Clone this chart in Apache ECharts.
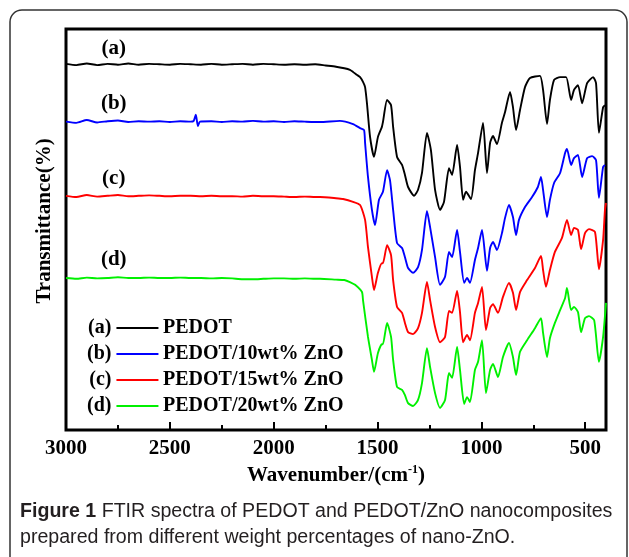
<!DOCTYPE html>
<html>
<head>
<meta charset="utf-8">
<title>FTIR spectra of PEDOT and PEDOT/ZnO</title>
<script src="https://cdn.jsdelivr.net/npm/echarts@6.0.0/dist/echarts.min.js"></script>
<style>
  html, body { margin: 0; padding: 0; background: #fff; }
  #chart { width: 629px; height: 557px; }
</style>
</head>
<body>
<div id="chart"></div>
<script>
// values: wavenumber (cm-1) and transmittance (arbitrary, stacked)
const waveA = [3000, 2950, 2900, 2850, 2800, 2750, 2700, 2650, 2600, 2550, 2500, 2450, 2400, 2350, 2300, 2250, 2200, 2150, 2100, 2050, 2000, 1950, 1900, 1850, 1800, 1750, 1700, 1660, 1633, 1618, 1600, 1584, 1570, 1560, 1551, 1536, 1517, 1498, 1479, 1474, 1454, 1435, 1425, 1406, 1382, 1368, 1353, 1324, 1305, 1286, 1262, 1243, 1223, 1199, 1180, 1156, 1141, 1117, 1103, 1088, 1074, 1050, 1031, 1016, 992, 973, 958, 944, 925, 901, 886, 862, 848, 833, 814, 790, 766, 718, 703, 684, 670, 650, 621, 592, 568, 554, 535, 515, 491, 462, 448, 434, 414, 405];
const transA = [91.3, 91.0, 91.4, 91.0, 91.3, 91.1, 91.4, 91.1, 91.3, 91.2, 91.1, 91.3, 91.2, 91.1, 91.3, 91.1, 91.2, 91.3, 91.1, 91.3, 91.2, 91.1, 91.2, 91.1, 91.2, 90.9, 90.6, 90.2, 89.8, 89.3, 88.6, 88.0, 86.8, 85.5, 81.5, 73.1, 68.1, 73.1, 75.6, 76.8, 82.3, 81.0, 75.6, 68.1, 66.1, 63.6, 60.6, 58.4, 59.9, 64.1, 74.1, 69.8, 59.9, 54.9, 56.9, 65.3, 63.6, 71.1, 65.6, 57.4, 59.4, 57.6, 64.8, 69.1, 76.6, 64.1, 71.6, 73.3, 71.3, 76.6, 79.3, 84.3, 80.5, 74.8, 79.8, 85.5, 87.8, 88.3, 84.8, 76.3, 82.3, 87.3, 88.0, 88.0, 82.3, 84.8, 86.0, 81.5, 86.5, 88.0, 86.5, 74.1, 80.5, 81.0];

const waveB = [3000, 2950, 2900, 2850, 2800, 2750, 2700, 2650, 2600, 2550, 2500, 2450, 2400, 2385, 2375, 2365, 2355, 2300, 2250, 2200, 2150, 2100, 2050, 2000, 1950, 1900, 1850, 1777, 1681, 1618, 1584, 1565, 1560, 1546, 1527, 1512, 1493, 1474, 1454, 1440, 1425, 1406, 1382, 1368, 1353, 1329, 1305, 1286, 1262, 1247, 1223, 1199, 1175, 1156, 1141, 1117, 1103, 1083, 1069, 1055, 1031, 1016, 997, 973, 958, 944, 925, 901, 886, 867, 848, 833, 819, 790, 756, 728, 713, 703, 684, 670, 650, 621, 597, 588, 568, 554, 535, 515, 491, 467, 448, 434, 414, 405];
const transB = [76.9, 76.6, 77.3, 76.7, 77.0, 77.2, 76.8, 77.0, 76.9, 77.0, 76.8, 77.0, 76.9, 77.1, 78.6, 75.8, 76.9, 77.0, 76.8, 77.0, 76.9, 77.1, 76.9, 77.0, 76.8, 77.0, 76.9, 76.8, 77.1, 76.3, 75.3, 74.8, 71.6, 63.1, 54.9, 51.1, 57.4, 59.4, 64.8, 62.3, 54.9, 46.6, 45.4, 43.1, 40.4, 39.2, 40.6, 44.9, 54.6, 50.6, 43.1, 36.2, 38.2, 44.4, 43.1, 49.9, 44.4, 36.7, 37.9, 36.7, 42.4, 45.4, 49.9, 39.7, 45.4, 46.9, 44.9, 49.1, 52.9, 56.1, 53.1, 48.6, 52.4, 55.6, 58.1, 60.6, 63.1, 59.9, 53.1, 57.4, 61.6, 64.1, 69.1, 70.1, 66.1, 67.8, 68.6, 63.1, 67.8, 68.3, 67.3, 57.9, 65.6, 66.1];

const waveC = [3000, 2950, 2900, 2850, 2800, 2750, 2700, 2650, 2600, 2550, 2500, 2450, 2400, 2350, 2300, 2250, 2200, 2150, 2100, 2050, 2000, 1950, 1900, 1850, 1800, 1777, 1700, 1666, 1618, 1584, 1560, 1546, 1527, 1517, 1498, 1479, 1474, 1454, 1435, 1425, 1406, 1382, 1368, 1353, 1329, 1305, 1286, 1262, 1247, 1223, 1199, 1175, 1156, 1141, 1117, 1103, 1088, 1069, 1055, 1031, 1016, 997, 978, 958, 944, 920, 896, 867, 848, 833, 814, 780, 742, 713, 703, 689, 670, 646, 612, 588, 568, 554, 535, 520, 501, 482, 453, 434, 414, 405, 400];
const transC = [58.4, 58.1, 58.6, 58.2, 58.4, 58.6, 58.3, 58.4, 58.5, 58.4, 58.3, 58.4, 58.4, 58.3, 58.4, 58.3, 58.3, 58.2, 58.4, 58.3, 58.3, 58.2, 58.1, 58.2, 58.1, 58.1, 57.8, 57.6, 56.9, 56.1, 52.4, 45.6, 38.2, 34.9, 39.2, 41.6, 41.6, 46.1, 43.6, 37.4, 30.7, 29.2, 26.7, 24.4, 23.9, 25.4, 29.2, 36.9, 32.4, 25.7, 21.9, 23.2, 29.7, 29.2, 34.7, 29.4, 21.9, 23.7, 22.4, 29.2, 31.7, 35.7, 24.9, 30.4, 31.4, 29.2, 33.2, 36.7, 34.2, 29.9, 34.4, 37.4, 40.4, 43.4, 39.9, 35.7, 39.9, 44.4, 47.9, 52.4, 48.6, 50.4, 49.9, 45.1, 49.1, 50.1, 49.4, 40.1, 47.4, 54.9, 56.6];

const waveD = [3000, 2950, 2900, 2850, 2800, 2750, 2700, 2650, 2600, 2550, 2500, 2450, 2400, 2350, 2300, 2250, 2200, 2150, 2100, 2050, 2000, 1950, 1900, 1850, 1800, 1777, 1700, 1660, 1633, 1608, 1575, 1570, 1546, 1527, 1517, 1498, 1479, 1474, 1454, 1435, 1425, 1406, 1382, 1368, 1353, 1329, 1305, 1286, 1262, 1247, 1223, 1199, 1175, 1156, 1141, 1117, 1103, 1083, 1069, 1055, 1031, 1016, 997, 978, 958, 944, 920, 896, 867, 848, 833, 814, 780, 742, 713, 703, 684, 670, 646, 621, 597, 588, 568, 554, 535, 520, 501, 482, 457, 434, 414, 400];
const transD = [37.9, 37.7, 38.0, 37.8, 37.9, 38.1, 37.9, 37.9, 38.0, 37.9, 37.9, 38.0, 37.9, 37.9, 37.8, 37.9, 37.8, 37.6, 37.6, 37.7, 37.8, 37.8, 37.7, 37.8, 37.7, 37.7, 37.5, 37.4, 36.9, 36.2, 34.4, 32.4, 23.2, 17.5, 14.5, 19.2, 21.4, 21.4, 26.7, 23.2, 17.5, 10.7, 10.0, 8.7, 6.7, 6.0, 7.5, 11.7, 20.4, 15.7, 9.2, 5.5, 7.5, 14.2, 13.0, 20.7, 15.0, 6.5, 8.2, 7.0, 15.0, 17.0, 22.4, 9.2, 15.0, 16.5, 13.2, 18.2, 21.7, 18.2, 13.7, 19.5, 22.4, 25.4, 27.9, 24.2, 18.2, 22.9, 26.7, 29.9, 32.9, 35.4, 29.9, 30.7, 29.4, 24.4, 27.9, 28.4, 27.4, 17.0, 23.2, 31.7];

const seriesNames = ['PEDOT', 'PEDOT/10wt% ZnO', 'PEDOT/15wt% ZnO', 'PEDOT/20wt% ZnO'];
const seriesTags = ['(a)', '(b)', '(c)', '(d)'];
// where the (a)..(d) tags sit, in data units
const tagWave = [2770, 2770, 2770, 2770];
const tagTrans = [95.0, 81.5, 62.6, 42.4];

const majorTicks = [500, 1000, 1500, 2000, 2500, 3000];
const minorTicks = [750, 1250, 1750, 2250, 2750];

const colors = ['#000000', '#0000ff', '#ff0000', '#00f000'];
const serif = "'Times New Roman', 'Liberation Serif', serif";
const sans = "'Liberation Sans', Arial, sans-serif";

const waves = [waveA, waveB, waveC, waveD];
const trans = [transA, transB, transC, transD];

const chart = echarts.init(document.getElementById('chart'));

const series = seriesNames.map((name, i) => ({
  name: name,
  type: 'line',
  xAxisIndex: 0,
  showSymbol: false,
  smooth: 0.2,
  color: colors[i],
  lineStyle: { width: 1.9, color: colors[i] },
  data: waves[i].map((w, k) => [w, trans[i][k]]),
  markPoint: {
    symbol: 'circle',
    symbolSize: 1,
    itemStyle: { color: 'rgba(0,0,0,0)' },
    label: {
      show: true,
      position: 'inside',
      formatter: seriesTags[i],
      color: '#000',
      fontFamily: serif,
      fontWeight: 'bold',
      fontSize: 21
    },
    data: [{ coord: [tagWave[i], tagTrans[i]] }]
  }
}));

const legendText = {
  color: '#000',
  fontFamily: serif,
  fontWeight: 'bold',
  fontSize: 20,
  lineHeight: 20
};

chart.setOption({
  animation: false,
  grid: {
    left: 66, right: 23, top: 29, bottom: 127,
    show: true,
    borderColor: '#000',
    borderWidth: 3
  },
  legend: [
    {
      // tags with the line sample after them
      data: seriesNames,
      orient: 'vertical',
      left: 87, top: 318,
      padding: 0,
      align: 'right',
      icon: 'rect',
      itemWidth: 42, itemHeight: 2, itemGap: 6,
      selectedMode: false,
      formatter: (name) => seriesTags[seriesNames.indexOf(name)],
      textStyle: legendText
    },
    {
      // the names only
      data: seriesNames,
      orient: 'vertical',
      left: 158, top: 318,
      padding: 0,
      icon: 'rect',
      itemWidth: 0, itemHeight: 2, itemGap: 6,
      selectedMode: false,
      textStyle: legendText
    }
  ],
  xAxis: [
    {
      type: 'value',
      min: 400, max: 3000,
      inverse: true,
      position: 'bottom',
      axisLine: { show: false },
      splitLine: { show: false },
      axisTick: {
        show: true, inside: true, length: 8,
        lineStyle: { color: '#000', width: 2 },
        customValues: majorTicks
      },
      axisLabel: {
        customValues: majorTicks,
        formatter: (v) => String(v),
        margin: 8,
        color: '#000',
        fontFamily: serif,
        fontWeight: 'bold',
        fontSize: 21
      },
      name: '{t|Wavenumber/(cm}{s|-1}{t|)}',
      nameLocation: 'middle',
      nameGap: 32,
      nameTextStyle: {
        rich: {
          t: { fontFamily: serif, fontWeight: 'bold', fontSize: 21, color: '#000' },
          s: { fontFamily: serif, fontWeight: 'bold', fontSize: 12, color: '#000', padding: [0, 0, 12, 0] }
        }
      }
    },
    {
      // minor ticks only
      type: 'value',
      min: 400, max: 3000,
      inverse: true,
      position: 'bottom',
      axisLine: { show: false },
      splitLine: { show: false },
      axisLabel: { show: false },
      axisTick: {
        show: true, inside: true, length: 5,
        lineStyle: { color: '#000', width: 2 },
        customValues: minorTicks
      }
    }
  ],
  yAxis: {
    type: 'value',
    min: 0, max: 100,
    axisLine: { show: false },
    axisTick: { show: false },
    axisLabel: { show: false },
    splitLine: { show: false },
    name: 'Transmittance(%)',
    nameLocation: 'middle',
    nameRotate: 90,
    nameGap: 11,
    nameTextStyle: {
      color: '#000',
      fontFamily: serif,
      fontWeight: 'bold',
      fontSize: 21,
      padding: [0, 0, 0, 17]
    }
  },
  graphic: [
    {
      type: 'rect',
      silent: true,
      z: -1,
      shape: { x: 10, y: 10, width: 617, height: 620, r: 12 },
      style: { fill: 'none', stroke: '#333', lineWidth: 1.5 }
    },
    {
      type: 'text',
      left: 20, top: 502,
      style: {
        text: '{b|Figure 1} FTIR spectra of PEDOT and PEDOT/ZnO nanocomposites',
        fill: '#231f20',
        font: "19.6px " + sans,
        rich: { b: { fontWeight: 'bold', fontSize: 19.6, fontFamily: sans, fill: '#231f20' } }
      }
    },
    {
      type: 'text',
      left: 20, top: 528,
      style: {
        text: 'prepared from different weight percentages of nano-ZnO.',
        fill: '#231f20',
        font: "19.6px " + sans
      }
    }
  ],
  series: series
});
</script>
</body>
</html>
